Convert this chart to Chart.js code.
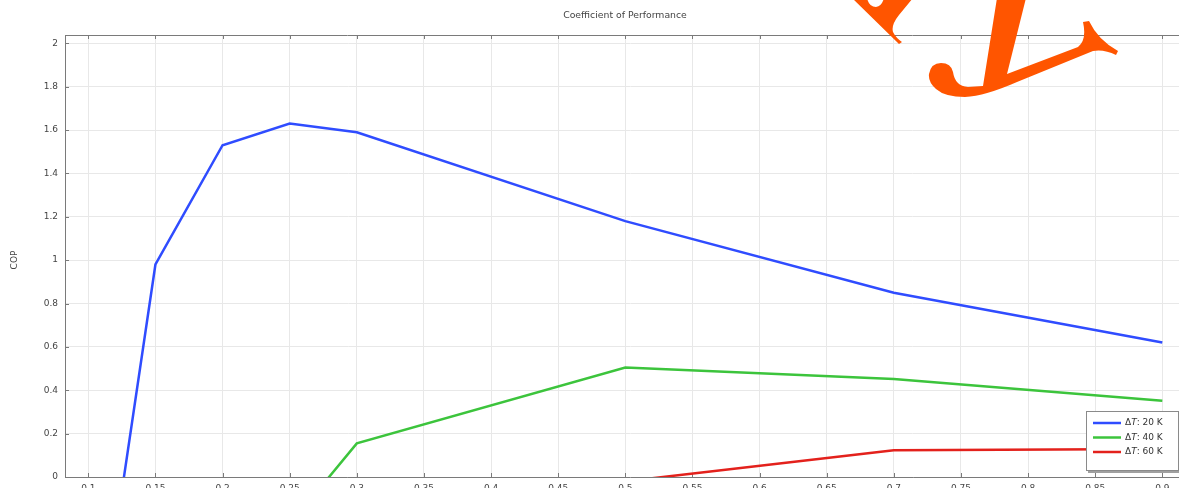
<!DOCTYPE html>
<html>
<head>
<meta charset="utf-8">
<script src="https://cdn.jsdelivr.net/npm/chart.js@4.4.1/dist/chart.umd.min.js"></script>
<style>
  html, body { margin: 0; padding: 0; background: #fff; overflow: hidden; }
  #wrap { position: absolute; left: 0; top: 0; width: 1200px; height: 520px; }
</style>
</head>
<body>
<div id="wrap"><canvas id="cop" width="1200" height="520"></canvas></div>
<script>
// Ratio on the x axis and the resulting coefficient of performance
const xTicks = [0.1, 0.15, 0.2, 0.25, 0.3, 0.35, 0.4, 0.45, 0.5, 0.55, 0.6, 0.65, 0.7, 0.75, 0.8, 0.85, 0.9];
const yTicks = [0, 0.2, 0.4, 0.6, 0.8, 1, 1.2, 1.4, 1.6, 1.8, 2];

const x20 = [0.1, 0.15, 0.2, 0.25, 0.3, 0.5, 0.7, 0.9];
const cop20 = [-1.11, 0.98, 1.53, 1.63, 1.59, 1.18, 0.85, 0.62];

const x40 = [0.25, 0.3, 0.5, 0.7, 0.9];
const cop40 = [-0.22, 0.155, 0.505, 0.452, 0.352];

const x60 = [0.5, 0.7, 0.9];
const cop60 = [-0.02, 0.123, 0.129];

const seriesNames = ['20 K', '40 K', '60 K'];
const seriesColors = ['#2f4cff', '#3cc43c', '#e3211c'];

const FONT = '"DejaVu Sans", sans-serif';

function pts(xs, ys) { return xs.map((x, i) => ({ x: x, y: ys[i] })); }

// Outline of the orange emblem in the top right corner
function drawEmblem(ctx) {
  ctx.save();
  ctx.fillStyle = '#ff5500';
  // left flared stroke
  ctx.beginPath();
  ctx.moveTo(852, -2);
  ctx.lineTo(867, -2);
  ctx.quadraticCurveTo(869, 7, 876, 7);
  ctx.quadraticCurveTo(882, 6, 884, -2);
  ctx.lineTo(913, -2);
  ctx.lineTo(899, 15);
  ctx.quadraticCurveTo(891, 25, 893, 32);
  ctx.quadraticCurveTo(896, 38, 902, 42);
  ctx.lineTo(899, 44);
  ctx.lineTo(852, -2);
  ctx.closePath();
  ctx.fill();

  // stem with ball terminal and rising swash
  ctx.beginPath();
  ctx.moveTo(997, -2);
  ctx.lineTo(1026, -2);
  ctx.lineTo(1007, 74);
  ctx.lineTo(1078, 47);
  ctx.quadraticCurveTo(1087, 40, 1083, 22);
  ctx.lineTo(1089, 21);
  ctx.quadraticCurveTo(1098, 40, 1118, 51);
  ctx.lineTo(1116, 55);
  ctx.quadraticCurveTo(1104, 49, 1093, 51);
  ctx.lineTo(1017, 82);
  ctx.quadraticCurveTo(985, 96, 965, 97);
  ctx.quadraticCurveTo(945, 97, 936, 89);
  ctx.quadraticCurveTo(928, 82, 929, 74);
  ctx.quadraticCurveTo(931, 63, 941, 63);
  ctx.quadraticCurveTo(951, 63, 953, 72);
  ctx.quadraticCurveTo(955, 86, 968, 87);
  ctx.lineTo(983, 86);
  ctx.closePath();
  ctx.fill();
  ctx.restore();
}

const framePlugin = {
  id: 'frame',
  beforeDatasetsDraw(chart) {
    const { ctx, chartArea: a, scales } = chart;
    ctx.save();
    ctx.strokeStyle = '#7a7a7a';
    ctx.lineWidth = 1;
    // top border
    ctx.beginPath();
    ctx.moveTo(a.left, a.top + 0.5);
    ctx.lineTo(a.right, a.top + 0.5);
    ctx.stroke();
    // inward ticks on bottom and top
    ctx.beginPath();
    xTicks.forEach(v => {
      const px = Math.round(scales.x.getPixelForValue(v)) + 0.5;
      ctx.moveTo(px, a.bottom); ctx.lineTo(px, a.bottom - 4);
      ctx.moveTo(px, a.top); ctx.lineTo(px, a.top + 4);
    });
    yTicks.forEach(v => {
      const py = Math.round(scales.y.getPixelForValue(v)) + 0.5;
      ctx.moveTo(a.left, py); ctx.lineTo(a.left + 4, py);
    });
    ctx.stroke();
    ctx.restore();
  },
  afterDraw(chart) {
    const { ctx } = chart;
    ctx.save();
    // title
    ctx.fillStyle = '#444';
    ctx.font = '9.3px ' + FONT;
    ctx.textAlign = 'center';
    ctx.textBaseline = 'middle';
    ctx.fillText('Coefficient of Performance', 625, 16);
    // y axis title
    ctx.font = '9px ' + FONT;
    ctx.translate(15, 260);
    ctx.rotate(-Math.PI / 2);
    ctx.fillText('COP', 0, 0);
    ctx.restore();

    // legend box inside plot, lower right
    const bx = 1086, by = 411, bw = 92, bh = 59;
    ctx.save();
    ctx.fillStyle = '#a0a0a0';
    ctx.fillRect(bx + 2, by + 2, bw + 1, bh + 1);
    ctx.fillStyle = '#fff';
    ctx.fillRect(bx, by, bw, bh);
    ctx.strokeStyle = '#8a8a8a';
    ctx.lineWidth = 1;
    ctx.strokeRect(bx + 0.5, by + 0.5, bw, bh);
    chart.data.datasets.forEach((ds, i) => {
      const yy = 423 + i * 14.5;
      ctx.strokeStyle = ds.borderColor;
      ctx.lineWidth = 2.5;
      ctx.beginPath();
      ctx.moveTo(1093, yy); ctx.lineTo(1121, yy);
      ctx.stroke();
      ctx.fillStyle = '#333';
      ctx.textBaseline = 'middle';
      ctx.textAlign = 'left';
      let tx = 1125;
      ctx.font = '9px ' + FONT;
      ctx.fillText('\u0394', tx, yy); tx += ctx.measureText('\u0394').width;
      ctx.font = 'italic 9px ' + FONT;
      ctx.fillText('T', tx, yy); tx += ctx.measureText('T').width;
      ctx.font = '9px ' + FONT;
      ctx.fillText(': ' + seriesNames[i], tx, yy);
    });
    ctx.restore();

    drawEmblem(ctx);
  }
};

new Chart(document.getElementById('cop'), {
  type: 'line',
  data: {
    datasets: seriesNames.map((n, i) => ({
      label: '\u0394T: ' + n,
      data: pts([x20, x40, x60][i], [cop20, cop40, cop60][i]),
      borderColor: seriesColors[i],
      backgroundColor: seriesColors[i],
      borderWidth: 2.5,
      pointRadius: 0,
      tension: 0,
      fill: false
    }))
  },
  options: {
    responsive: false,
    animation: false,
    devicePixelRatio: 1,
    layout: { padding: { top: 35, left: 0, right: 5, bottom: 0 } },
    plugins: { legend: { display: false }, title: { display: false }, tooltip: { enabled: false } },
    scales: {
      x: {
        type: 'linear',
        min: 0.08264,
        max: 0.92435,
        afterFit(s) { s.height = 43; },
        afterBuildTicks(s) { s.ticks = xTicks.map(v => ({ value: v })); },
        grid: { color: '#e8e8e8', drawTicks: false },
        border: { color: '#7a7a7a' },
        ticks: { padding: 6, color: '#444', font: { family: FONT, size: 9 }, callback: v => String(v) }
      },
      y: {
        type: 'linear',
        min: 0,
        max: 2.0383,
        afterFit(s) { s.width = 65; },
        afterBuildTicks(s) { s.ticks = yTicks.map(v => ({ value: v })); },
        grid: { color: '#e8e8e8', drawTicks: false },
        border: { color: '#7a7a7a' },
        ticks: { padding: 7, color: '#444', font: { family: FONT, size: 9 }, callback: v => String(v) }
      }
    }
  },
  plugins: [framePlugin]
});
</script>
</body>
</html>
